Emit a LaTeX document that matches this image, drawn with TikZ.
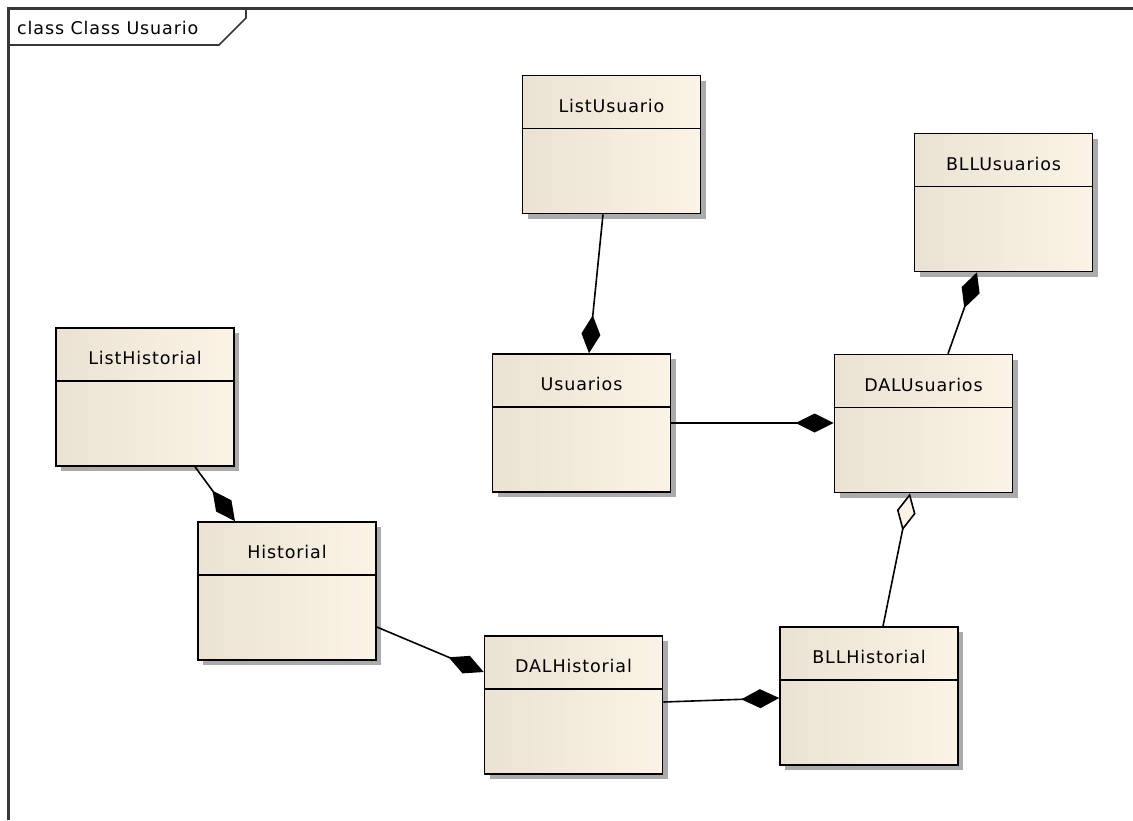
\documentclass[tikz,border=0pt]{standalone}
\usepackage{fontspec}
\newfontfamily\umlfont{DejaVu Sans}[LetterSpace=5]
\usetikzlibrary{calc,shadows,arrows.meta}
\definecolor{frameline}{RGB}{55,55,55}
\definecolor{boxleft}{RGB}{234,226,211}
\definecolor{boxright}{RGB}{251,243,229}
\definecolor{boxshadow}{RGB}{150,150,150}
\tikzset{
  classbox/.style={draw=black, line width=1.6pt, left color=boxleft, right color=boxright,
    minimum width=178pt, minimum height=138pt, inner sep=0pt,
    drop shadow={shadow xshift=5pt, shadow yshift=-5pt, fill=boxshadow, opacity=0.8}},
  classname/.style={font=\umlfont\fontsize{17.5}{20}\selectfont, inner sep=0pt},
  link/.style={draw=black, line width=1.6pt},
  compose/.style={link, -{Diamond[length=38pt, width=19pt, fill=black]}},
  aggregate/.style={link, -{Diamond[open, length=38pt, width=19pt, fill=boxright]}}
}
\newcommand{\classbody}[2]{%
  \draw[line width=1.5pt] ($(#1.north west)+(0,-54pt)$) -- ($(#1.north east)+(0,-54pt)$);
  \node[classname] at ($(#1.north)+(0,-31pt)$) {#2};}
\begin{document}
\begin{tikzpicture}[x=1pt, y=-1pt]
  \useasboundingbox (0,0) rectangle (1133,820);
  \fill[white] (0,0) rectangle (1133,820);

  % diagram frame and its name tab
  \draw[frameline, line width=3pt] (8,820) -- (8,8) -- (1133,8);
  \draw[frameline, line width=1.6pt] (8,45) -- (219,45) -- (246,18) -- (246,8);
  \node[classname, anchor=west] (title) at (17,28) {class Class Usuario};

  % classes
  \node[classbox] (lu)   at (611.5,144.5) {};
  \node[classbox] (bllu) at (1003.5,202.5) {};
  \node[classbox] (lh)   at (145,397) {};
  \node[classbox] (usu)  at (581.5,423) {};
  \node[classbox] (dalu) at (923.5,423.5) {};
  \node[classbox] (his)  at (287,591) {};
  \node[classbox] (dalh) at (573.5,705) {};
  \node[classbox] (bllh) at (869,696) {};

  \classbody{lu}{ListUsuario}
  \classbody{bllu}{BLLUsuarios}
  \classbody{lh}{ListHistorial}
  \classbody{usu}{Usuarios}
  \classbody{dalu}{DALUsuarios}
  \classbody{his}{Historial}
  \classbody{dalh}{DALHistorial}
  \classbody{bllh}{BLLHistorial}

  % associations
  \draw[compose] ($(lu.south)+(-8.5pt,0)$) -- ($(usu.north)+(7.5pt,0)$);
  \draw[compose] (usu.east) -- (usu.east -| dalu.west);
  \draw[compose] ($(dalu.north)+(24.5pt,0)$) -- ($(bllu.south)+(-26.5pt,0)$);
  \draw[aggregate] ($(bllh.north)+(14pt,0)$) -- ($(dalu.south)+(-13.5pt,0)$);
  \draw[compose] ($(lh.south)+(50pt,0)$) -- ($(his.north)+(-52pt,0)$);
  \draw[compose] ($(his.east)+(0,-36pt)$) -- ($(dalh.west)+(0,33pt)$);
  \draw[compose] ($(dalh.east)+(0,3pt)$) -- ($(bllh.west)+(0,-2pt)$);
\end{tikzpicture}
\end{document}
